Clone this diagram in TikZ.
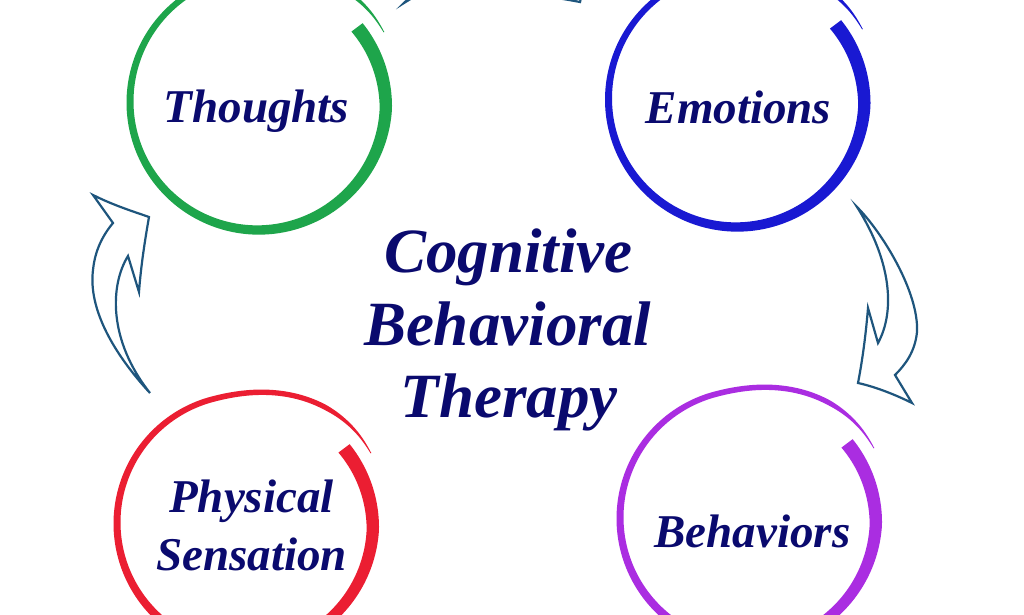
\documentclass[tikz,border=0pt]{standalone}
\usepackage{fontspec}
\setmainfont{Liberation Serif}
\definecolor{cgreen}{RGB}{30,165,75}
\definecolor{cblue}{RGB}{25,25,210}
\definecolor{cred}{RGB}{235,30,50}
\definecolor{cpurple}{RGB}{170,45,225}
\definecolor{navy}{RGB}{10,10,110}
\definecolor{arrowc}{RGB}{30,85,125}
\newcommand\brushring[3]{%
  \fill[#3] plot[domain=37:-331,samples=220,variable=\t]
    ({#1+(rr(\t)+ww(\t)/2)*cos(\t)},{#2-(rr(\t)+ww(\t)/2)*sin(\t)})
    -- plot[domain=-331:37,samples=220,variable=\t]
    ({#1+(rr(\t)-ww(\t)/2)*cos(\t)},{#2-(rr(\t)-ww(\t)/2)*sin(\t)}) -- cycle;}
\newcommand\sidearrowpath{(0,0) .. controls (25,25) and (62,85) .. (60,125)
  .. controls (58,145) and (48,158) .. (38,168) -- (55,196)
  .. controls (35,186) and (15,179) .. (1,176)
  .. controls (6,150) and (9,125) .. (11,101) -- (21,136)
  .. controls (38,105) and (35,55) .. (0,0) -- cycle}
\tikzset{
  lbl/.style={text=navy, font=\fontsize{47}{56}\selectfont\bfseries\itshape, inner sep=0pt, anchor=base},
  ttl/.style={text=navy, font=\fontsize{63}{72}\selectfont\bfseries\itshape, inner sep=0pt, anchor=base},
  arrowshape/.style={draw=arrowc, line width=2.2pt, fill=white, line join=miter}
}
\begin{document}
\begin{tikzpicture}[x=1pt,y=-1pt,
  declare function={
    uu(\t)=(37-\t)/368;
    ss(\t)=min(1,max(0,(-255-\t)/70));
    rr(\t)=128-4*max(0,1-(37-\t)/40)+16*ss(\t)*ss(\t)*(3-2*ss(\t));
    ww(\t)=(14-16*uu(\t)+7*uu(\t)*uu(\t))*min(1,(1-uu(\t))*12+0.15);
  }]
\useasboundingbox (0,0) rectangle (1024,614);
\clip (0,0) rectangle (1024,614);
\fill[white] (0,0) rectangle (1024,614);
% rings
\brushring{258}{102}{cgreen}
\brushring{736.5}{99}{cblue}
\brushring{245}{523}{cred}
\brushring{748}{518}{cpurple}
% arrows
\draw[arrowshape] (150,393) .. controls (115,355) and (88,310) .. (93,270)
  .. controls (95,250) and (103,235) .. (113,223) -- (93,195)
  .. controls (115,206) and (135,212) .. (149,217)
  .. controls (145,240) and (141,265) .. (139,292) -- (128,256)
  .. controls (110,285) and (108,340) .. (150,393) -- cycle;
\begin{scope}[shift={(857,207)}]
  \draw[arrowshape] \sidearrowpath;
\end{scope}
\begin{scope}[shift={(404,3)},rotate=90]
  \draw[arrowshape] \sidearrowpath;
\end{scope}
% labels
\node[lbl] (thoughts) at (256.5,122) {Thoughts};
\node[lbl] (emotions) at (738.5,123) {Emotions};
\node[lbl] (physical) at (251.5,512) {Physical};
\node[lbl] (sensation) at (251.5,570) {Sensation};
\node[lbl] (behaviors) at (752.5,547) {Behaviors};
\node[ttl] (title1) at (508.5,272) {Cognitive};
\node[ttl] (title2) at (507.5,345) {Behavioral};
\node[ttl] (title3) at (509,417) {Therapy};
\end{tikzpicture}
\end{document}
